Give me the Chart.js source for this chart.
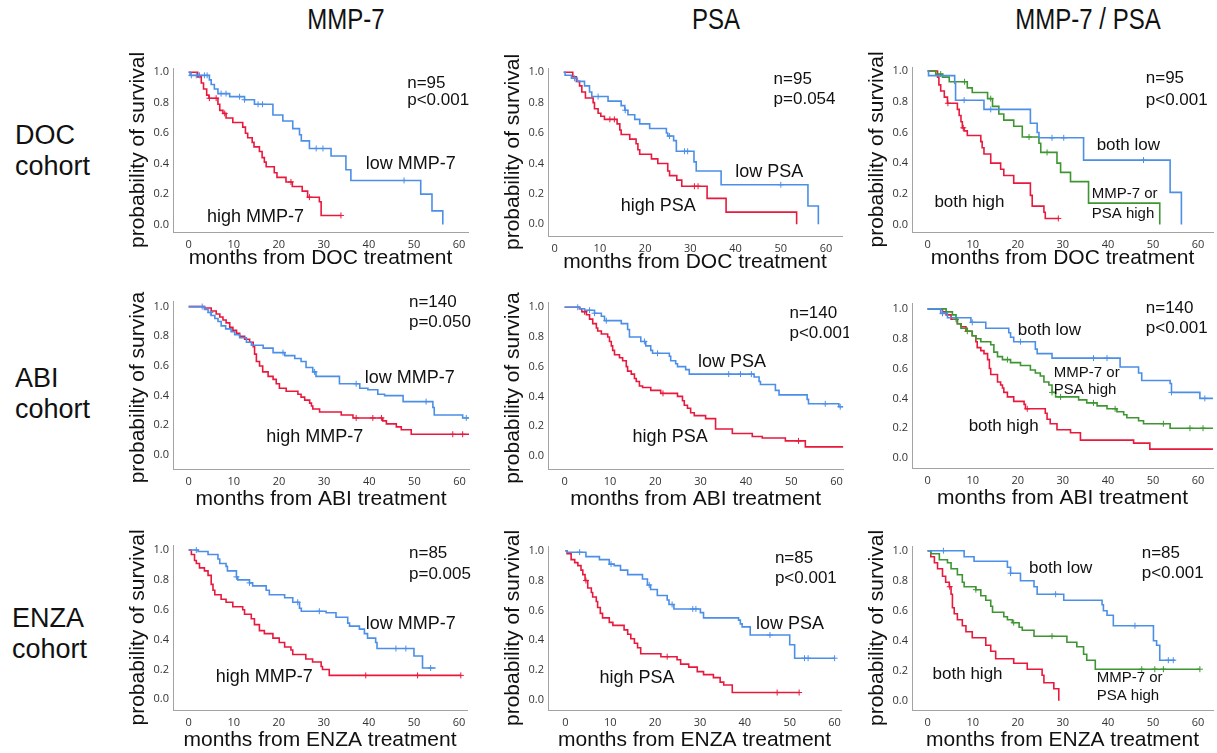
<!DOCTYPE html>
<html>
<head>
<meta charset="utf-8">
<script src="https://cdn.jsdelivr.net/npm/chart.js@4.4.0/dist/chart.umd.min.js"></script>
<style>
  body { margin: 0; background: #fff; width: 1217px; height: 753px; position: relative; overflow: hidden;
         font-family: "Liberation Sans", Arial, sans-serif; color: #111; }
  canvas { position: absolute; }
  .head { position: absolute; top: 2px; font-size: 30px; line-height: 34px; white-space: nowrap;
          transform: translateX(-50%) scaleX(0.8); }
  .cohort { position: absolute; left: 15px; font-size: 27px; line-height: 31px; }
</style>
</head>
<body>
<div class="head" style="left:346px">MMP-7</div>
<div class="head" style="left:716px">PSA</div>
<div class="head" style="left:1088px">MMP-7 / PSA</div>
<div class="cohort" style="top:120px">DOC<br>cohort</div>
<div class="cohort" style="top:363px">ABI<br>cohort</div>
<div class="cohort" style="top:603px;left:12px">ENZA<br>cohort</div>

<script>
// tick labels
const xTicks = [0, 10, 20, 30, 40, 50, 60];
const yTicks = [0, 0.2, 0.4, 0.6, 0.8, 1.0];

// Kaplan-Meier steps [months, survival] + censored times
// DOC cohort
const docMmpHigh = [[0,1],[2.0,.97],[2.8,.93],[3.3,.89],[4.0,.85],[4.5,.83],[6.5,.79],[6.9,.75],[7.6,.73],[8.3,.70],[9.8,.67],[12.0,.64],[12.6,.60],[13.1,.57],[14.1,.54],[14.5,.51],[15.7,.48],[16.3,.44],[16.8,.41],[17.2,.38],[19.0,.34],[19.6,.31],[21.6,.28],[23.0,.25],[25.2,.22],[26.4,.18],[29.0,.15],[29.4,.06],[33.8,.06]];
const docMmpHighCens = [4.6, 6.1, 8.0, 22.7, 26.8, 33.8];
const docMmpLow = [[0,1],[0.3,.98],[4.6,.95],[5.0,.92],[5.7,.89],[6.5,.86],[9.1,.84],[12.4,.82],[14.6,.79],[18.7,.72],[20.9,.68],[23.1,.63],[24.6,.59],[25.0,.55],[26.8,.50],[31.6,.45],[34.9,.36],[36.0,.29],[51.5,.20],[54.0,.09],[56.4,0]];
const docMmpLowCens = [0.6, 1.7, 2.4, 3.5, 4.1, 7.2, 8.3, 11.3, 12.4, 15.4, 16.4, 28.3, 29.8, 47.8];
const docPsaHigh = [[2.0,1],[4.0,.97],[4.8,.94],[5.5,.91],[6.0,.87],[6.8,.83],[8.5,.80],[8.8,.76],[9.6,.73],[10.2,.71],[11.0,.69],[13.8,.66],[14.4,.62],[14.7,.59],[16.6,.56],[18.0,.53],[18.4,.49],[18.8,.46],[21.4,.43],[22.8,.40],[25.0,.35],[25.4,.32],[27.0,.29],[28.1,.25],[33.7,.17],[37.9,.08],[53.5,0]];
const docPsaHighCens = [12.2, 13.2, 30.9, 31.7];
const docPsaLow = [[2.0,1],[2.3,.98],[3.7,.96],[5.0,.94],[6.6,.91],[7.7,.87],[8.2,.84],[11.8,.81],[14.7,.78],[15.5,.75],[16.2,.72],[17.7,.69],[18.8,.66],[21.0,.63],[24.7,.60],[25.0,.58],[26.3,.55],[26.9,.48],[30.8,.41],[31.3,.35],[36.8,.26],[56.0,.12],[58.3,0]];
const docPsaLowCens = [4.4, 9.6, 15.6, 25.4, 28.7, 29.4, 50.0];
const docBothHigh = [[0,1],[2.2,.96],[2.5,.91],[2.9,.87],[3.7,.83],[4.4,.79],[6.6,.75],[7.0,.71],[7.4,.67],[7.7,.63],[8.1,.61],[8.8,.58],[11.8,.54],[12.1,.50],[12.5,.46],[14.0,.40],[16.2,.36],[16.9,.32],[19.1,.27],[22.8,.19],[23.2,.12],[25.8,.08],[26.1,.04],[29.0,.04]];
const docBothHighCens = [4.5, 7.9, 29.0];
const docEither = [[0,1],[1.8,.98],[3.3,.96],[4.8,.93],[8.8,.89],[9.9,.86],[13.3,.82],[14.4,.77],[15.8,.72],[16.9,.68],[19.1,.64],[21.0,.57],[24.7,.53],[25.1,.47],[28.7,.40],[29.5,.34],[31.7,.28],[35.7,.14],[51.5,0]];
const docEitherCens = [2.9, 8.2, 14.0, 22.5, 26.5];
const docBothLow = [[0,1],[0.2,.97],[6.0,.92],[6.2,.81],[12.5,.75],[22.8,.66],[24.3,.60],[24.7,.565],[34.6,.42],[53.8,.21],[56.3,0]];
const docBothLowCens = [8.1, 14.0, 27.6, 30.2, 47.9];

// ABI cohort
const abiMmpHigh = [[0,1],[3.5,.99],[5.0,.97],[6.1,.95],[6.9,.93],[7.6,.91],[8.3,.89],[9.1,.86],[9.8,.84],[10.6,.82],[11.3,.80],[12.4,.78],[13.5,.76],[14.3,.73],[14.6,.68],[15.0,.63],[15.7,.60],[16.4,.56],[17.6,.53],[18.7,.51],[19.4,.48],[20.1,.45],[21.6,.43],[24.2,.41],[24.9,.39],[25.7,.37],[26.8,.35],[27.2,.33],[27.5,.31],[29.0,.29],[33.8,.27],[36.4,.25],[43.0,.23],[43.8,.21],[46.0,.19],[47.1,.17],[49.3,.14],[62.2,.14]];
const abiMmpHighCens = [37.1, 40.8, 42.7, 58.5, 60.7];
const abiMmpLow = [[0,1],[3.5,.98],[4.3,.96],[5.0,.94],[5.8,.92],[6.5,.90],[7.2,.87],[8.2,.85],[9.4,.83],[10.2,.81],[11.3,.79],[12.8,.76],[13.9,.74],[16.5,.72],[18.7,.69],[21.3,.67],[23.5,.65],[24.9,.63],[26.0,.59],[27.5,.56],[28.2,.53],[33.4,.48],[37.9,.45],[39.7,.44],[41.9,.41],[43.4,.40],[47.5,.36],[54.1,.32],[54.4,.27],[60.7,.25],[62.2,.25]];
const abiMmpLowCens = [3.0, 4.8, 20.9, 27.9, 37.1, 52.6, 61.5];
const abiPsaHigh = [[0,1],[3.3,.99],[3.8,.97],[4.8,.95],[5.5,.92],[6.2,.89],[7.0,.86],[7.3,.84],[8.1,.82],[9.5,.80],[9.9,.77],[10.3,.74],[10.6,.71],[11.0,.68],[12.1,.66],[12.8,.64],[13.6,.60],[13.9,.57],[14.7,.55],[15.4,.52],[15.8,.50],[16.5,.47],[17.2,.46],[19.0,.44],[21.2,.42],[24.9,.40],[26.0,.37],[26.4,.34],[27.1,.32],[27.8,.29],[28.6,.27],[31.1,.25],[33.3,.18],[37.0,.15],[41.4,.13],[43.6,.12],[48.7,.10],[53.1,.06],[61.5,.06]];
const abiPsaHighCens = [4.4, 21.7, 51.6];
const abiPsaLow = [[0,1],[3.3,.99],[4.4,.98],[6.6,.96],[8.1,.94],[8.8,.91],[12.5,.89],[13.9,.85],[14.3,.80],[16.8,.77],[17.9,.74],[19.0,.71],[19.4,.69],[23.1,.67],[23.4,.64],[24.5,.62],[24.9,.60],[26.7,.58],[27.5,.55],[41.8,.53],[42.9,.50],[43.2,.48],[46.5,.44],[47.3,.41],[53.5,.38],[53.8,.35],[60.5,.33],[61.5,.33]];
const abiPsaLowCens = [2.9, 5.5, 6.6, 9.2, 17.6, 20.5, 36.2, 38.8, 41.2, 57.5, 60.8];
const abiBothHigh = [[0,1],[3.3,.98],[4.1,.96],[5.2,.93],[6.6,.90],[7.4,.88],[8.5,.85],[9.9,.82],[10.7,.78],[11.0,.74],[11.8,.72],[12.5,.70],[13.3,.66],[13.7,.60],[14.0,.56],[15.5,.51],[16.2,.49],[16.6,.47],[16.9,.44],[17.7,.41],[19.1,.38],[21.4,.36],[21.7,.33],[26.1,.30],[26.5,.26],[27.2,.23],[28.7,.19],[31.7,.17],[33.9,.12],[45.7,.10],[49.3,.06],[63.3,.06]];
const abiBothHighCens = [22.1];
const abiEither = [[0,1],[4.1,.98],[5.5,.96],[6.3,.93],[6.6,.90],[7.4,.87],[8.8,.85],[9.9,.82],[10.7,.80],[11.8,.78],[14.0,.76],[14.7,.71],[15.5,.68],[16.6,.66],[18.4,.64],[20.6,.62],[22.8,.59],[23.9,.57],[25.0,.55],[25.8,.51],[26.9,.49],[27.6,.44],[28.4,.41],[33.5,.39],[35.3,.37],[37.6,.35],[39.8,.33],[42.0,.31],[43.5,.29],[44.2,.27],[46.8,.25],[47.9,.23],[53.8,.20],[63.3,.20]];
const abiEitherCens = [6.3, 8.8, 17.7, 27.6, 29.5, 36.8, 41.6, 52.3, 58.2, 61.1];
const abiBothLow = [[0,1],[2.9,.97],[4.4,.94],[9.6,.91],[12.9,.87],[18.0,.84],[18.4,.81],[19.1,.78],[23.9,.73],[24.3,.70],[27.6,.67],[42.7,.61],[46.8,.57],[47.5,.52],[53.8,.50],[54.1,.44],[60.4,.40],[63.3,.40]];
const abiBothLowCens = [3.3, 9.9, 20.6, 36.8, 39.8, 54.1, 61.5];

// ENZA cohort
const enzaMmpHigh = [[0,1],[0.6,.97],[1.3,.93],[1.7,.91],[2.4,.88],[3.5,.86],[4.3,.83],[5.0,.77],[5.4,.73],[5.8,.70],[7.2,.67],[8.3,.65],[9.8,.62],[12.0,.60],[12.4,.57],[13.9,.54],[14.6,.50],[15.7,.46],[16.8,.44],[18.7,.41],[20.1,.38],[21.3,.35],[22.7,.33],[23.1,.30],[26.0,.27],[27.5,.25],[29.4,.22],[29.7,.20],[31.2,.16],[60.4,.16]];
const enzaMmpHighCens = [39.3, 50.8, 60.4];
const enzaMmpLow = [[0,1],[2.1,.99],[4.3,.97],[6.5,.94],[6.9,.91],[8.3,.89],[8.6,.86],[10.6,.82],[10.9,.80],[13.5,.78],[14.2,.76],[17.2,.73],[17.9,.70],[21.3,.68],[23.1,.65],[24.6,.61],[25.0,.59],[30.5,.58],[32.7,.55],[35.3,.51],[35.7,.49],[37.9,.47],[39.0,.44],[39.7,.41],[41.5,.38],[41.8,.34],[50.0,.29],[51.9,.21],[54.8,.21]];
const enzaMmpLowCens = [1.7, 10.6, 13.5, 24.2, 29.0, 46.0, 48.2, 53.7];
const enzaPsaHigh = [[0,1],[0.4,.98],[1.3,.94],[2.1,.92],[2.8,.90],[3.5,.87],[3.9,.84],[4.4,.80],[5.0,.75],[5.8,.72],[6.1,.69],[6.9,.66],[7.2,.62],[7.8,.58],[8.3,.55],[9.8,.52],[10.6,.50],[13.1,.47],[13.9,.44],[14.6,.41],[15.4,.38],[16.1,.35],[16.8,.31],[21.3,.29],[24.9,.27],[25.7,.24],[27.5,.22],[29.4,.19],[30.8,.17],[33.0,.15],[34.5,.12],[35.3,.10],[37.2,.05],[52.1,.05]];
const enzaPsaHighCens = [4.6, 22.7, 47.2, 52.1];
const enzaPsaLow = [[0,1],[0.4,.99],[4.6,.96],[7.6,.94],[9.8,.91],[10.9,.90],[12.3,.87],[13.9,.84],[17.2,.81],[18.3,.77],[19.0,.74],[20.5,.70],[22.7,.67],[23.1,.64],[24.2,.61],[30.1,.585],[30.8,.55],[38.6,.535],[39.0,.51],[39.4,.49],[41.2,.435],[50.0,.37],[51.1,.28],[60.0,.28]];
const enzaPsaLowCens = [3.2, 10.2, 18.7, 23.8, 28.4, 29.1, 45.6, 53.3, 54.1, 60.0];
const enzaBothHigh = [[0,1],[0.7,.96],[1.5,.92],[2.2,.88],[3.3,.83],[4.0,.79],[4.8,.76],[5.2,.71],[5.5,.62],[5.9,.58],[6.6,.54],[7.7,.50],[8.5,.46],[9.9,.42],[12.9,.37],[14.0,.33],[15.1,.28],[19.1,.25],[22.1,.21],[25.4,.17],[25.8,.12],[28.0,.08],[29.1,0]];
const enzaBothHighCens = [4.9];
const enzaEither = [[0,1],[0.7,.98],[2.6,.94],[4.4,.92],[5.2,.88],[6.6,.84],[7.7,.79],[8.1,.76],[10.7,.74],[11.8,.70],[12.9,.67],[14.0,.63],[14.4,.59],[16.9,.56],[17.7,.54],[18.8,.52],[20.3,.49],[21.0,.47],[23.6,.43],[30.9,.39],[33.1,.36],[34.6,.31],[35.3,.27],[37.2,.21],[60.4,.21]];
const enzaEitherCens = [10.7, 19.1, 27.6, 47.5, 50.4, 52.3, 60.4];
const enzaBothLow = [[0,1],[8.1,.96],[10.3,.93],[17.7,.89],[18.4,.85],[20.6,.80],[23.6,.76],[24.3,.71],[30.2,.67],[38.7,.64],[39.0,.60],[39.8,.57],[41.2,.50],[50.1,.40],[50.8,.37],[51.5,.27],[54.9,.27]];
const enzaBothLowCens = [3.5, 18.4, 28.4, 46.0, 53.4, 54.5];

const RED = '#e8193c', BLUE = '#4b8fe8', GREEN = '#3d9632';
const FONT = '"Liberation Sans", Arial, sans-serif';
const YW = 55, XH = 50, PR = 4;

// g = [px of x=0, px of x=60, px of y=0, px of y=1, area left, right, top, bottom]
const panels = [
  { g: [189, 460, 224.3, 72.3, 173.3, 469, 68, 231.7], pt: 20, xd: 26, xTitle: 'months from DOC treatment', yTitle: true,
    curves: [[docMmpLow, docMmpLowCens, BLUE], [docMmpHigh, docMmpHighCens, RED]],
    labels: [['n=95', 48.5, .895, 17], ['p<0.001', 48.5, .785, 17], ['low MMP-7', 39.3, .368, 18], ['high MMP-7', 4.05, .017, 18]] },
  { g: [555, 827, 223.3, 71.7, 548.3, 843, 67.5, 235], pt: 20, xd: 26, xTitle: 'months from DOC treatment', yTitle: true,
    curves: [[docPsaLow, docPsaLowCens, BLUE], [docPsaHigh, docPsaHighCens, RED]],
    labels: [['n=95', 48.4, .923, 17], ['p=0.054', 48.4, .791, 17], ['low PSA', 39.9, .314, 18], ['high PSA', 14.6, .088, 18]] },
  { g: [928, 1199.7, 224.3, 71, 912.3, 1214.7, 67, 231.7], pt: 20, xd: 26, xTitle: 'months from DOC treatment', yTitle: true,
    curves: [[docBothLow, docBothLowCens, BLUE], [docEither, docEitherCens, GREEN], [docBothHigh, docBothHighCens, RED]],
    labels: [['n=95', 48.4, .92, 17], ['p<0.001', 48.4, .778, 17], ['both low', 37.5, .485, 17], ['both high', 1.5, .115, 17],
             ['MMP-7 or', 36.4, .17, 15], ['PSA high', 36.4, .043, 15]] },
  { g: [189, 460.5, 455, 306, 173.3, 470, 301, 469], pt: 10, xd: 30, xTitle: 'months from ABI treatment', yTitle: true,
    curves: [[abiMmpLow, abiMmpLowCens, BLUE], [abiMmpHigh, abiMmpHighCens, RED]],
    labels: [['n=140', 48.8, .995, 17], ['p=0.050', 48.8, .861, 17], ['low MMP-7', 39.0, .488, 18], ['high MMP-7', 17.2, .089, 18]] },
  { g: [565, 838.3, 455.7, 306.7, 548.3, 845, 302, 469], pt: 10, xd: 30, xTitle: 'months from ABI treatment', yTitle: true,
    curves: [[abiPsaLow, abiPsaLowCens, BLUE], [abiPsaHigh, abiPsaHighCens, RED]],
    labels: [['n=140', 49.6, .926, 17], ['p<0.001', 49.6, .792, 17], ['low PSA', 29.4, .597, 18], ['high PSA', 15.0, .094, 18]] },
  { g: [928, 1199.7, 458.3, 308.3, 912.3, 1214.7, 303, 468.3], pt: 10, xd: 30, xTitle: 'months from ABI treatment', yTitle: false,
    curves: [[abiBothLow, abiBothLowCens, BLUE], [abiEither, abiEitherCens, GREEN], [abiBothHigh, abiBothHighCens, RED]],
    labels: [['n=140', 48.4, .973, 17], ['p<0.001', 48.4, .84, 17], ['both low', 20.0, .827, 17], ['MMP-7 or', 28.0, .544, 15],
             ['PSA high', 28.0, .427, 15], ['both high', 9.1, .182, 17]] },
  { g: [189, 460, 699.3, 550, 173.3, 468, 545, 710], pt: 20, xd: 30, xTitle: 'months from ENZA treatment', yTitle: true,
    curves: [[enzaMmpLow, enzaMmpLowCens, BLUE], [enzaMmpHigh, enzaMmpHighCens, RED]],
    labels: [['n=85', 48.9, .944, 17], ['p=0.005', 48.9, .804, 17], ['low MMP-7', 39.3, .469, 18], ['high MMP-7', 6.0, .118, 18]] },
  { g: [565.7, 836.7, 700, 550.7, 548.3, 843.3, 546, 710], pt: 20, xd: 30, xTitle: 'months from ENZA treatment', yTitle: true,
    curves: [[enzaPsaLow, enzaPsaLowCens, BLUE], [enzaPsaHigh, enzaPsaHighCens, RED]],
    labels: [['n=85', 46.7, .916, 17], ['p<0.001', 46.7, .782, 17], ['low PSA', 42.5, .473, 18], ['high PSA', 7.6, .112, 18]] },
  { g: [928, 1199.7, 700.7, 550.7, 912.3, 1214.7, 546, 710], pt: 20, xd: 30, xTitle: 'months from ENZA treatment', yTitle: true,
    curves: [[enzaBothLow, enzaBothLowCens, BLUE], [enzaEither, enzaEitherCens, GREEN], [enzaBothHigh, enzaBothHighCens, RED]],
    labels: [['n=85', 47.5, .949, 17], ['p<0.001', 47.5, .816, 17], ['both low', 22.5, .849, 17], ['both high', 1.1, .143, 17],
             ['MMP-7 or', 37.5, .127, 15], ['PSA high', 37.5, .005, 15]] }
];

// survival value of a step curve at time t
function survAt(steps, t) {
  let s = steps[0][1];
  steps.forEach(p => { if (p[0] <= t) s = p[1]; });
  return s;
}

function textPlugin(items) {
  return {
    id: 'kmText',
    afterDatasetsDraw(chart) {
      const { ctx, scales: { x, y } } = chart;
      ctx.save();
      ctx.fillStyle = '#111';
      ctx.textAlign = 'left';
      ctx.textBaseline = 'alphabetic';
      items.forEach(([txt, vx, vy, size]) => {
        ctx.font = size + 'px ' + FONT;
        ctx.fillText(txt, x.getPixelForValue(vx), y.getPixelForValue(vy));
      });
      ctx.restore();
    }
  };
}

panels.forEach(p => {
  const [x0, x60, y0, y1, left, right, top, bottom] = p.g;
  const ppx = (x60 - x0) / 60, ppy = y0 - y1;
  const PT = p.pt;

  const canvas = document.createElement('canvas');
  const w = Math.round(right - left + YW + PR), h = Math.round(bottom - top + PT + XH);
  canvas.width = w; canvas.height = h;
  canvas.style.width = w + 'px'; canvas.style.height = h + 'px';
  canvas.style.left = (left - YW) + 'px';
  canvas.style.top = (top - PT) + 'px';
  document.body.appendChild(canvas);

  const datasets = [];
  p.curves.forEach(([steps, cens, color]) => {
    datasets.push({
      data: steps.map(s => ({ x: s[0], y: s[1] })),
      borderColor: color, borderWidth: 1.6, pointRadius: 0, stepped: true, fill: false
    });
    datasets.push({
      data: cens.map(t => ({ x: t, y: survAt(steps, t) })),
      showLine: false, pointStyle: 'cross', pointRadius: 3, borderWidth: 1,
      borderColor: color, backgroundColor: color
    });
  });

  new Chart(canvas, {
    type: 'line',
    data: { datasets },
    options: {
      responsive: false,
      animation: false,
      layout: { padding: { top: PT, right: PR, left: 0, bottom: 0 } },
      plugins: { legend: { display: false }, tooltip: { enabled: false } },
      scales: {
        x: {
          type: 'linear',
          min: (left - x0) / ppx, max: (right - x0) / ppx,
          afterBuildTicks: s => { s.ticks = xTicks.map(v => ({ value: v })); },
          afterFit: s => { s.height = XH; },
          grid: { display: false, drawTicks: false },
          border: { color: '#a3a3a3', width: 1 },
          ticks: { padding: 6, autoSkip: false, maxRotation: 0, color: '#333',
                   font: { size: 11, family: '"Open Sans", ' + FONT } },
          title: { display: true, text: p.xTitle, color: '#111', font: { size: 21, family: FONT },
                   padding: { top: 0, bottom: XH - p.xd - 12.6 } }
        },
        y: {
          min: -(bottom - y0) / ppy, max: (y0 - top) / ppy,
          afterBuildTicks: s => { s.ticks = yTicks.map(v => ({ value: v })); },
          afterFit: s => { s.width = YW; },
          grid: { display: false, drawTicks: false },
          border: { color: '#a3a3a3', width: 1 },
          ticks: { padding: 4, color: '#333', callback: v => v.toFixed(1),
                   font: { size: 11, family: '"Open Sans", ' + FONT } },
          title: { display: p.yTitle, text: 'probability of survival', color: '#111',
                   font: { size: 21, family: FONT }, padding: { top: YW - 35 - 12.6, bottom: 0 } }
        }
      }
    },
    plugins: [textPlugin(p.labels)]
  });
});
</script>
</body>
</html>
